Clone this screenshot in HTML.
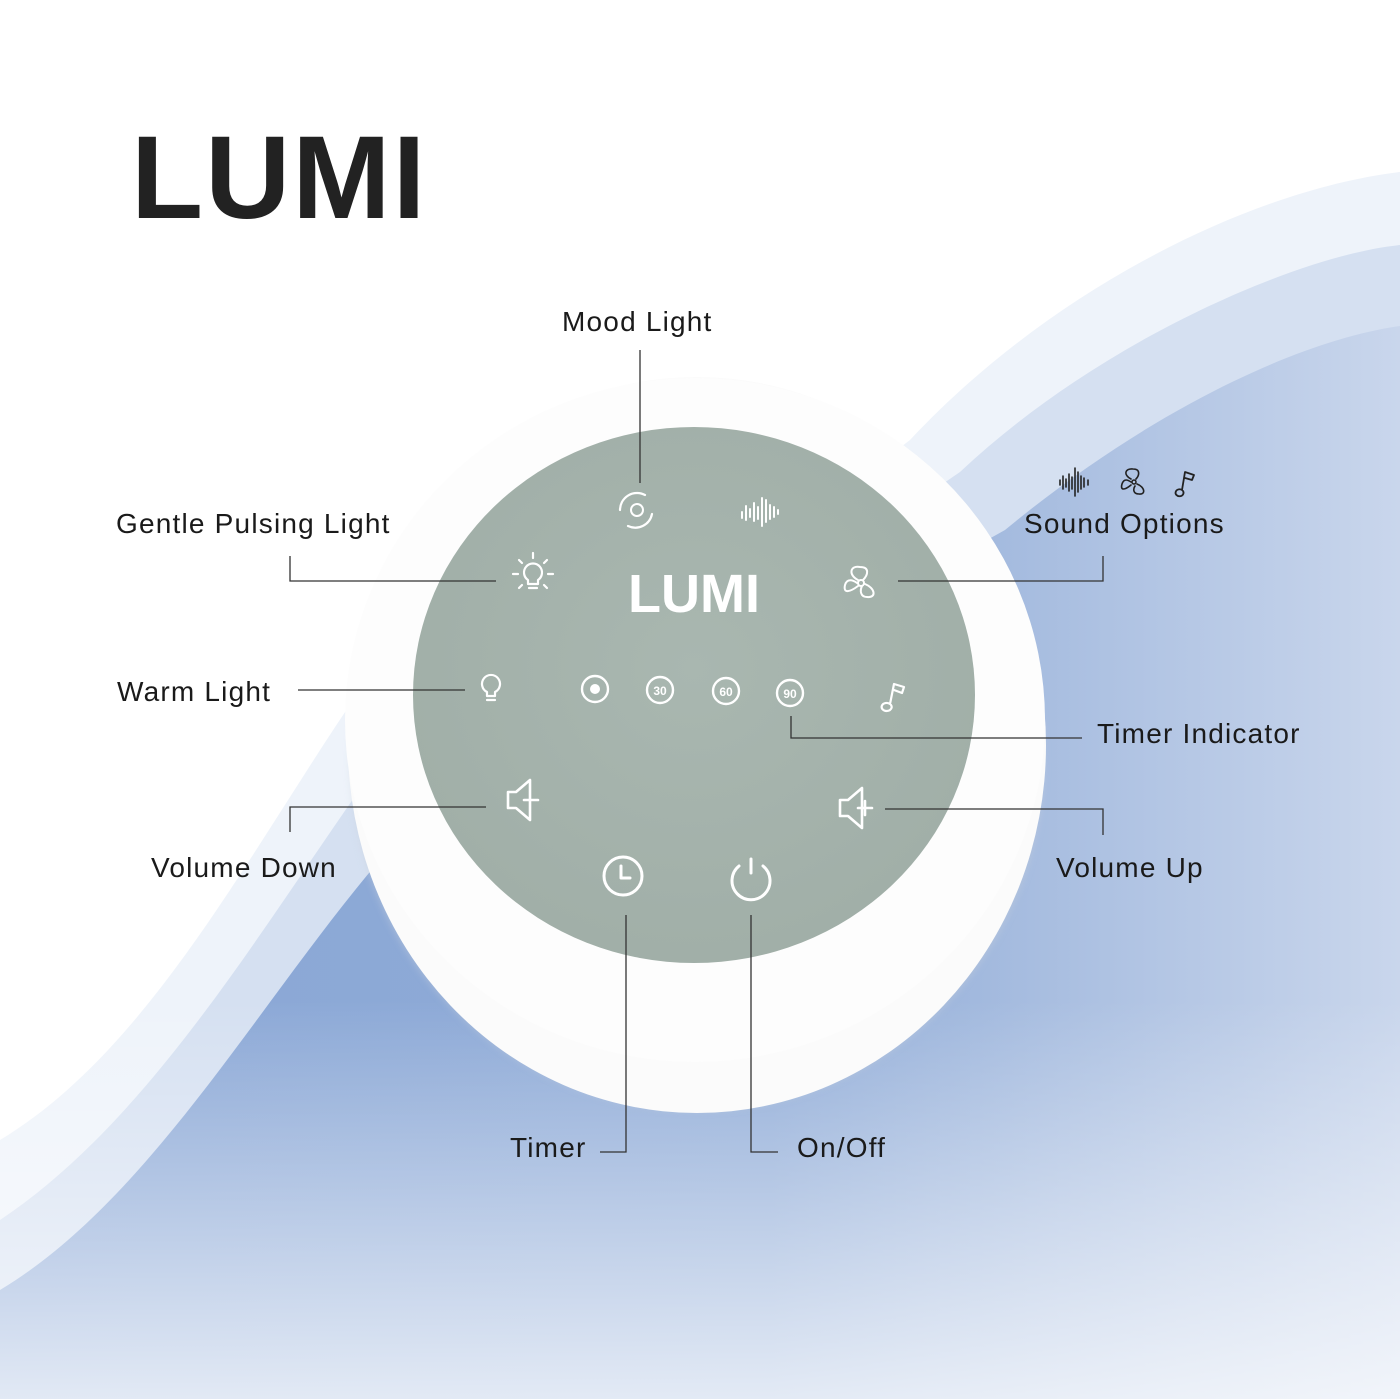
<!DOCTYPE html>
<html><head><meta charset="utf-8"><style>
html,body{margin:0;padding:0;background:#fff}
svg{display:block}
text{font-family:"Liberation Sans",sans-serif}
.lb{font-size:28px;fill:#1a1a1a;letter-spacing:1.2px}
.ln{stroke:#333;stroke-width:1.3;fill:none}
.ic{stroke:#fff;stroke-width:3;fill:none;stroke-linecap:round;stroke-linejoin:round}
.ick{stroke:#222;stroke-width:2;fill:none;stroke-linecap:round;stroke-linejoin:round}
</style></head><body>
<svg width="1400" height="1399" viewBox="0 0 1400 1399" xmlns="http://www.w3.org/2000/svg">
<defs>
<linearGradient id="gb" x1="0" y1="0" x2="1" y2="0">
<stop offset="0" stop-color="#8aa7d6"/><stop offset="0.55" stop-color="#8fabd7"/><stop offset="1" stop-color="#c9d6ec"/>
</linearGradient>
<linearGradient id="fade" x1="0" y1="0" x2="0" y2="1">
<stop offset="0" stop-color="#fff" stop-opacity="0"/><stop offset="1" stop-color="#fff" stop-opacity="0.75"/>
</linearGradient>
<radialGradient id="gray" cx="0.5" cy="0.45" r="0.6">
<stop offset="0" stop-color="#a9b7b0"/><stop offset="1" stop-color="#a0aea7"/>
</radialGradient>
<filter id="sh" x="-10%" y="-10%" width="120%" height="120%"><feGaussianBlur stdDeviation="4"/></filter>
</defs>
<rect width="1400" height="1399" fill="#fff"/>
<path d="M0,1140 C150,1050 250,850 360,690 L700,600 L910,440 C1050,290 1250,190 1400,172 L1400,1399 L0,1399Z" fill="#eef3fa"/>
<path d="M0,1220 C150,1120 260,930 370,775 L700,650 L960,472 C1100,340 1300,255 1400,245 L1400,1399 L0,1399Z" fill="#d5e0f1"/>
<path d="M0,1290 C150,1200 260,1000 380,860 L700,700 L1005,530 C1150,410 1300,340 1400,326 L1400,1399 L0,1399Z" fill="url(#gb)"/>
<rect x="0" y="1000" width="1400" height="399" fill="url(#fade)"/>

<text x="131" y="218" font-size="118" font-weight="700" fill="#222" letter-spacing="2">LUMI</text>

<g>
<ellipse cx="697" cy="760" rx="346" ry="350" fill="#c8d0dc" opacity="0.5" filter="url(#sh)"/>
<ellipse cx="697" cy="745" rx="349" ry="368" fill="#fbfbfb"/>
<ellipse cx="695" cy="720" rx="350" ry="342" fill="#fdfdfd"/>
<ellipse cx="694" cy="695" rx="281" ry="268" fill="url(#gray)"/>
</g>
<text x="694" y="612" font-size="54" font-weight="700" fill="#fff" text-anchor="middle">LUMI</text>

<g class="ic">
<circle cx="637" cy="510" r="6" stroke-width="2"/>
<path d="M620,510 A17,17 0 0 1 645,495 M652,514 A17,17 0 0 1 628,526" stroke-width="2.2"/>
<path d="M742,512v6 M746,506v14 M750,509v8 M754,503v18 M758,507v12 M762,498v28 M766,500v22 M770,505v14 M774,507v10 M778,510v4" stroke-width="2"/>
<path d="M528,584 v-4 a9,9 0 1 1 10,0 v4 z M529,588h8 M518,574h-5 M548,574h5 M522,563l-3,-3 M544,563l3,-3 M533,558v-5 M522,585l-3,3 M544,585l3,3" stroke-width="2.2"/>
<circle cx="861" cy="583" r="3" stroke-width="2"/>
<path d="M858,580 C848,575 850,565 860,567 C870,567 868,575 863,580 M865,584 C875,588 877,598 867,597 C860,597 860,590 862,586 M858,586 C850,592 843,594 845,585 C847,578 853,580 857,583" stroke-width="2"/>
<path d="M487,696 v-4 a9,9 0 1 1 8,0 v4 z M487,700h8" stroke-width="2.2"/>
<circle cx="595" cy="689" r="13" stroke-width="2.4"/>
<circle cx="660" cy="690" r="13" stroke-width="2.4"/>
<circle cx="726" cy="691" r="13" stroke-width="2.4"/>
<circle cx="790" cy="693" r="13" stroke-width="2.4"/>
<path d="M891,705 a5,4 0 1 1 -1,-1 l4,-20 l10,3 l-2,6 l-8,-3" stroke-width="2.2"/>
<path d="M508,792 h8 l14,-12 v40 l-14,-12 h-8 z M524,800 h14" stroke-width="2.6"/>
<path d="M840,800 h8 l14,-12 v40 l-14,-12 h-8 z M858,808 h14 M865,801 v14" stroke-width="2.6"/>
<circle cx="623" cy="876" r="19" stroke-width="3"/>
<path d="M621,866 v12 h9"/>
<path d="M739,866 A19,19 0 1 0 763,866 M751,859 v14" stroke-width="3"/>
</g>
<circle cx="595" cy="689" r="5" fill="#fff"/>
<g font-size="12" fill="#fff" text-anchor="middle" font-weight="700">
<text x="660" y="695">30</text><text x="726" y="696">60</text><text x="790" y="698">90</text>
</g>

<g class="ick">
<path d="M1060,480v5 M1063,476v13 M1066,479v8 M1069,474v17 M1072,477v12 M1075,468v28 M1078,472v20 M1081,476v13 M1084,478v9 M1088,480v5" stroke-width="1.6"/>
<circle cx="1134" cy="482" r="2" stroke-width="1.5"/>
<path d="M1131,479 C1123,475 1125,468 1133,469 C1141,469 1139,476 1136,479 M1137,484 C1145,487 1146,495 1139,494 C1133,494 1133,489 1135,486 M1131,485 C1125,490 1120,491 1122,484 C1124,478 1128,480 1131,482" stroke-width="1.6"/>
<path d="M1183,491 a4,3.5 0 1 1 -1,-1 l3,-18 l9,3 l-2,5 l-7,-2" stroke-width="1.8"/>
</g>

<g class="ln">
<path d="M640,350 V483"/>
<path d="M290,556 V581 H496"/>
<path d="M298,690 H465"/>
<path d="M290,832 V807 H486"/>
<path d="M600,1152 H626 V915"/>
<path d="M751,915 V1152 H778"/>
<path d="M1103,556 V581 H898"/>
<path d="M791,716 V738 H1082"/>
<path d="M1103,835 V809 H885"/>
</g>

<text class="lb" x="562" y="331">Mood Light</text>
<text class="lb" x="116" y="533">Gentle Pulsing Light</text>
<text class="lb" x="117" y="701">Warm Light</text>
<text class="lb" x="151" y="877">Volume Down</text>
<text class="lb" x="510" y="1157">Timer</text>
<text class="lb" x="797" y="1157">On/Off</text>
<text class="lb" x="1024" y="533">Sound Options</text>
<text class="lb" x="1097" y="743">Timer Indicator</text>
<text class="lb" x="1056" y="877">Volume Up</text>
</svg>
</body></html>
